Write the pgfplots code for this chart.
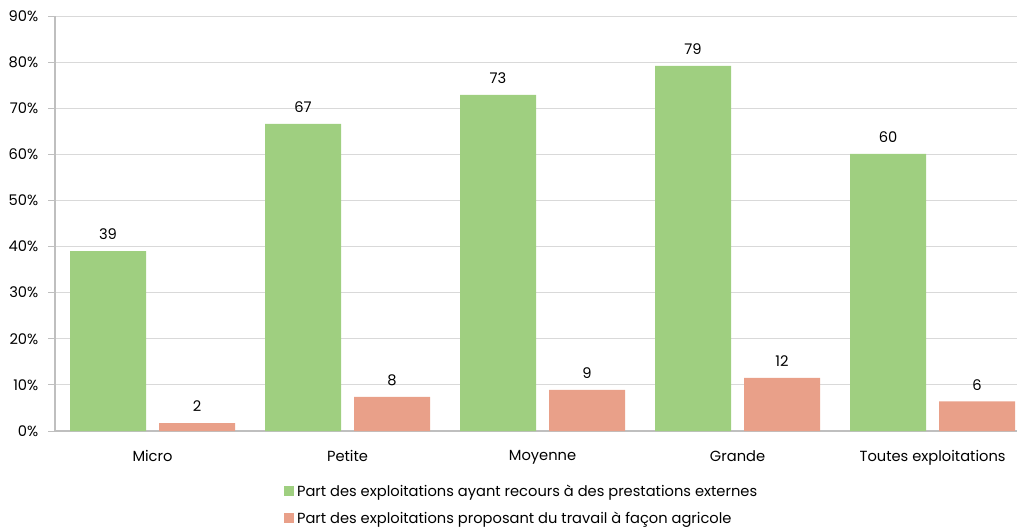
\documentclass[border=0pt]{standalone}
\usepackage{pgfplots}
\pgfplotsset{compat=1.18}
\usepackage{fontspec}
\setmainfont{Poppins}
\definecolor{cgreen}{HTML}{9FCF80}
\definecolor{csalmon}{HTML}{E9A089}
\definecolor{cgrid}{HTML}{D9D9D9}
\definecolor{caxis}{HTML}{BFBFBF}
\begin{document}
\begin{tikzpicture}
\useasboundingbox (-41.25pt,-73.5pt) rectangle (721.5pt,323.25pt);
\begin{axis}[
  at={(0,0)}, anchor=south west,
  scale only axis,
  width=721.5pt, height=311.25pt,
  ybar=9.75pt, bar width=57pt,
  xmin=-0.5, xmax=4.433,
  ymin=0, ymax=90,
  ytick={0,10,...,90},
  yticklabel={\pgfmathprintnumber{\tick}\%},
  xtick={0,1,2,3,4},
  xticklabels={Micro,Petite,Moyenne,Grande,Toutes exploitations},
  extra x ticks={0.5,1.5,2.5,3.5},
  extra x tick labels={},
  extra x tick style={major tick length=5pt, tick style={draw=caxis, thick}, grid=none, tick pos=left},
  major x tick style={draw=none},
  x tick label style={yshift=-6pt},
  ymajorgrids, grid style={draw=cgrid, line width=0.6pt},
  axis line style={draw=caxis, line width=0.9pt},
  axis x line*=bottom, axis y line*=left,
  ytick style={draw=caxis, line width=0.6pt},
  major tick length=5pt,
  y tick label style={xshift=-4pt},
  tick label style={font=\fontsize{11}{13}\selectfont, /pgf/number format/assume math mode=true},
  tick align=outside,
  enlarge x limits=false,
  nodes near coords,
  point meta=explicit symbolic,
  every node near coord/.append style={font=\fontsize{11}{13}\selectfont, text=black, yshift=5pt},
  legend style={at={(0.234,-0.116)}, anchor=north west, draw=none, fill=none,
    font=\fontsize{11}{13}\selectfont, row sep=6pt, legend cell align=left},
  legend image code/.code={\fill[#1] (0pt,-3.6pt) rectangle (7.5pt,3.9pt);},
  clip=false,
]
\addplot[fill=cgreen, draw=none] coordinates {(0,39.0) [39] (1,66.6) [67] (2,72.9) [73] (3,79.2) [79] (4,60.1) [60]};
\addplot[fill=csalmon, draw=none] coordinates {(0,1.7) [2] (1,7.4) [8] (2,8.9) [9] (3,11.5) [12] (4,6.4) [6]};
\legend{Part des exploitations ayant recours à des prestations externes, Part des exploitations proposant du travail à façon agricole}
\end{axis}
\end{tikzpicture}
\end{document}
